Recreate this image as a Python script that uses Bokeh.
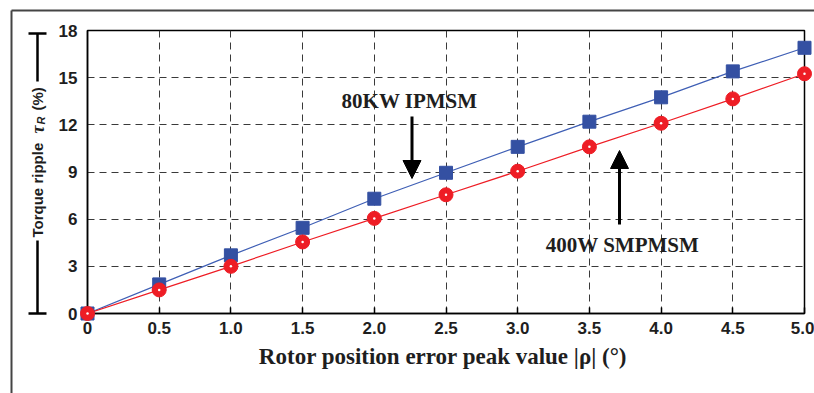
import math

from bokeh.plotting import figure
from bokeh.core.properties import value
from bokeh.models import (Range1d, FixedTicker, NumeralTickFormatter, Label,
                          Arrow, NormalHead)
from bokeh.embed import file_html
from bokeh.resources import INLINE

# Rotor position error peak value |rho| in degrees
rho_deg = [0.0, 0.5, 1.0, 1.5, 2.0, 2.5, 3.0, 3.5, 4.0, 4.5, 5.0]
# Torque ripple (%) of the two machines
ripple_ipmsm_80kw = [0.0, 1.85, 3.7, 5.45, 7.3, 8.95, 10.6, 12.2, 13.75, 15.4, 16.9]
ripple_smpmsm_400w = [0.0, 1.5, 3.0, 4.55, 6.05, 7.55, 9.05, 10.6, 12.1, 13.65, 15.25]

x_ticks = [0.0, 0.5, 1.0, 1.5, 2.0, 2.5, 3.0, 3.5, 4.0, 4.5, 5.0]
x_tick_labels = ["0", "0.5", "1.0", "1.5", "2.0", "2.5", "3.0", "3.5", "4.0", "4.5", "5.0"]
y_ticks = [0, 3, 6, 9, 12, 15, 18]
y_tick_labels = ["0", "3", "6", "9", "12", "15", "18"]

BLUE_LINE = "#3f5fb5"
BLUE_MARK = "#3450a2"
RED = "#ee1d25"
INK = "#1e1e1e"

# frame geometry in pixels, used to place the decorations outside the frame
FL, FR, FT, FB = 87, 804, 30, 313
XS = (FR - FL) / 5.0
YS = (FB - FT) / 18.0
xd = lambda px: (px - FL) / XS
yd = lambda py: (FB - py) / YS

p = figure(width=814, height=393,
           x_range=Range1d(0, 5), y_range=Range1d(0, 18),
           output_backend="svg", toolbar_location=None,
           min_border_left=FL, min_border_right=814 - FR,
           min_border_top=FT, min_border_bottom=393 - FB,
           background_fill_color="white", border_fill_color="white")

p.outline_line_color = "black"
p.outline_line_width = 1.5

# axes
p.xaxis.ticker = FixedTicker(ticks=x_ticks)
p.xaxis.formatter = NumeralTickFormatter(format="0.0")
p.xaxis.major_label_overrides = dict(zip(x_ticks, x_tick_labels))
p.yaxis.ticker = FixedTicker(ticks=y_ticks)
p.yaxis.major_label_overrides = dict(zip(y_ticks, y_tick_labels))

for ax in (p.xaxis[0], p.yaxis[0]):
    ax.axis_line_color = "black"
    ax.axis_line_width = 1.5
    ax.minor_tick_line_color = None
    ax.major_label_text_font = "Liberation Sans"
    ax.major_label_text_font_style = "bold"
    ax.major_label_text_font_size = "17px"
    ax.major_label_text_color = INK

p.xaxis.major_tick_in = 6
p.xaxis.major_tick_out = 0
p.xaxis.major_tick_line_width = 1.5
p.xaxis.major_label_standoff = 8
p.yaxis.major_tick_in = 0
p.yaxis.major_tick_out = 0
p.yaxis.major_label_standoff = 10

p.xaxis.axis_label = "Rotor position error peak value |\u03c1|  (\u00b0)"
p.xaxis.axis_label_text_font = "Liberation Serif"
p.xaxis.axis_label_text_font_style = "bold"
p.xaxis.axis_label_text_font_size = "23px"
p.xaxis.axis_label_text_color = INK
p.xaxis.axis_label_standoff = 7

# dashed grid
for g in (p.xgrid[0], p.ygrid[0]):
    g.grid_line_color = "#3a3a3a"
    g.grid_line_dash = "7 5"
    g.grid_line_width = 1
p.xgrid.ticker = FixedTicker(ticks=x_ticks)
p.ygrid.ticker = FixedTicker(ticks=y_ticks)

# series
p.line(rho_deg, ripple_ipmsm_80kw, line_color=BLUE_LINE, line_width=1.2)
p.line(rho_deg, ripple_smpmsm_400w, line_color=RED, line_width=1.2)
p.scatter(rho_deg, ripple_ipmsm_80kw, marker="square", size=13,
          fill_color=BLUE_MARK, line_color=BLUE_MARK, level="overlay")
p.scatter(rho_deg, ripple_smpmsm_400w, marker="circle", size=14,
          fill_color=RED, line_color=RED, level="overlay")
p.scatter(rho_deg, ripple_smpmsm_400w, marker="circle", size=2.5,
          fill_color="white", line_color=None, level="overlay")

# callouts
p.add_layout(Label(x=xd(409), y=yd(100), text="80KW IPMSM", text_align="center",
                   text_baseline="middle", text_font="Liberation Serif",
                   text_font_style="bold", text_font_size="21px", text_color=INK))
p.add_layout(Arrow(end=NormalHead(size=18, fill_color="black", line_color="black"),
                   x_start=xd(411.5), y_start=yd(116), x_end=xd(411.5), y_end=yd(178),
                   line_width=3, line_color="black"))
p.add_layout(Label(x=xd(622), y=yd(244.5), text="400W SMPMSM", text_align="center",
                   text_baseline="middle", text_font="Liberation Serif",
                   text_font_style="bold", text_font_size="21px", text_color=INK))
p.add_layout(Arrow(end=NormalHead(size=18, fill_color="black", line_color="black"),
                   x_start=xd(619), y_start=yd(224), x_end=xd(619), y_end=yd(150),
                   line_width=3, line_color="black"))

# y axis title: a dimension line with the label set into it
tx = 37
cap = 9
p.segment(x0=[xd(tx), xd(tx), xd(tx - cap), xd(tx - cap)],
          y0=[yd(33), yd(240), yd(33), yd(313)],
          x1=[xd(tx), xd(tx), xd(tx + cap), xd(tx + cap)],
          y1=[yd(81), yd(313), yd(33), yd(313)],
          line_color="black", line_width=2.5, level="overlay")


def vtext(px, py, s, font, style, size):
    p.text(x=[xd(px)], y=[yd(py)], text=[s], angle=math.pi / 2,
           text_align="left", text_baseline="middle", text_color=INK,
           text_font=value(font), text_font_style=style,
           text_font_size=value(size), level="overlay")


vtext(tx, 237, "Torque ripple", "Liberation Sans", "bold", "15px")
vtext(tx, 133, "\u03c4", "Liberation Serif", "bold italic", "18px")
vtext(tx + 3.5, 124, "R", "Liberation Sans", "bold italic", "11px")
vtext(tx, 110, "(%)", "Liberation Sans", "bold", "15px")

# outer panel edges
p.segment(x0=[xd(11), xd(11)], y0=[yd(10), yd(10)],
          x1=[xd(814), xd(11)], y1=[yd(10), yd(393)],
          line_color="#444444", line_width=2, level="overlay")

open("out.html", "w").write(file_html(p, INLINE))
